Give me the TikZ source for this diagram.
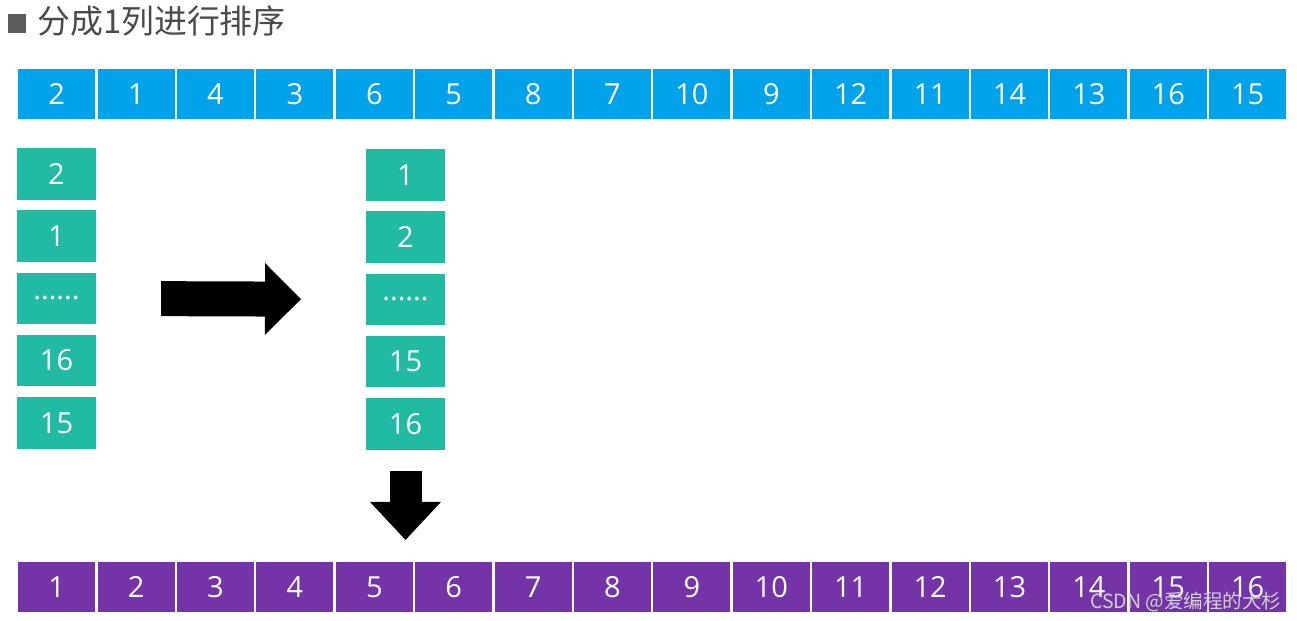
\documentclass[tikz,border=0pt]{standalone}
\usepackage{fontspec}
\setmainfont{Open Sans}
\newfontfamily\cjkfont{Noto Sans CJK SC}
\usetikzlibrary{positioning,arrows.meta,calc}
\definecolor{rowblue}{HTML}{00A2EA}
\definecolor{colteal}{HTML}{20BBA2}
\definecolor{rowpurple}{HTML}{7433A6}
\definecolor{titlegray}{HTML}{4A4A4A}
\newcommand{\sixdots}{......}
\tikzset{
    cell/.style={minimum width=1.54cm,minimum height=0.99cm,inner sep=0pt,
        text=white,font=\fontsize{16.5}{18}\selectfont},
    topcell/.style={cell,fill=rowblue},
    botcell/.style={cell,fill=rowpurple},
    colbox/.style={cell,fill=colteal,minimum width=1.57cm,minimum height=1.03cm},
    bigarrow/.style={line width=0.7cm,
        -{Triangle[length=0.72cm,width=1.44cm,line width=0pt]}},
    downarrow/.style={line width=0.64cm,
        -{Triangle[length=0.76cm,width=1.42cm,line width=0pt]}},
}

\begin{document}
\begin{tikzpicture}[x=0.02cm,y=-0.02cm]
    \useasboundingbox (0,0) rectangle (1297,620);

    % title
    \node[fill=titlegray!90,minimum size=0.37cm,inner sep=0pt] (bullet) at (17,23.5) {};
    \node[anchor=west,text=titlegray,font=\cjkfont\fontsize{18.7}{20}\selectfont,inner sep=0pt]
        (title) at (37,21) {分成1列进行排序};

    % unsorted row
    \foreach \v [count=\i] in {2,1,4,3,6,5,8,7,10,9,12,11,14,13,16,15}
        \node[topcell] (t\i) at ({56.7+79.4*(\i-1)},94) {\v};

    % column before and after sorting
    \foreach \v [count=\i] in {2,1,\sixdots,16,15}
        \node[colbox] (l\i) at (56.5,{174+62.2*(\i-1)}) {\v};
    \foreach \v [count=\i] in {1,2,\sixdots,15,16}
        \node[colbox] (r\i) at (405.5,{175+62.2*(\i-1)}) {\v};

    % sorted row
    \foreach \v [count=\i] in {1,...,16}
        \node[botcell] (b\i) at ({56.7+79.4*(\i-1)},587) {\v};

    \draw[bigarrow,shorten <=1.3cm,shorten >=1.3cm] (l3.east) -- (r3.west);
    \draw[downarrow,shorten <=0.42cm,shorten >=0.44cm] (r5.south) -- (r5.south |- b5.north);

    \node[anchor=south west,inner sep=0pt,text=white!82!black,
        font=\cjkfont\fontsize{11.1}{13}\selectfont] (mark) at (1090,612) {CSDN @爱编程的大杉};
\end{tikzpicture}
\end{document}
